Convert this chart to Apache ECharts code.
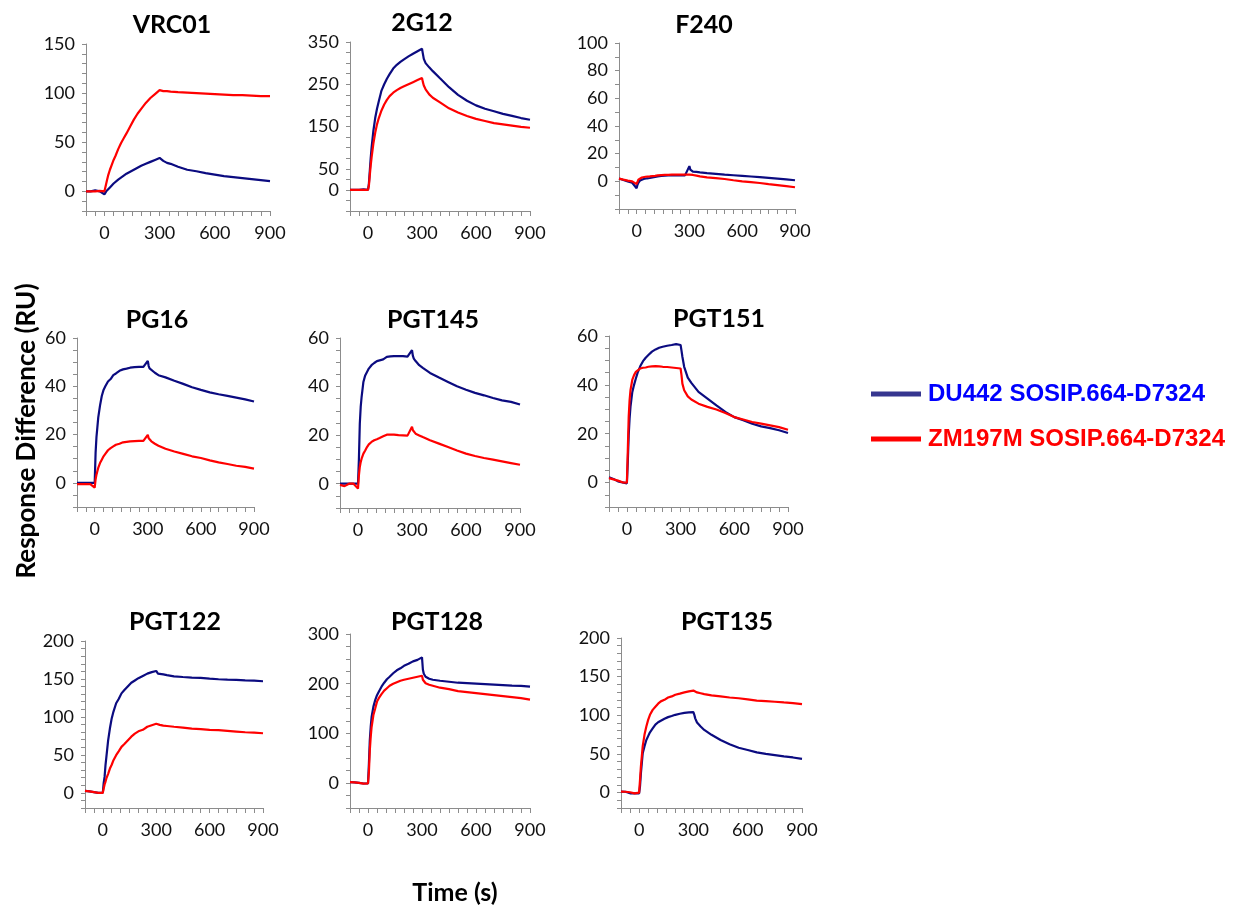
<!DOCTYPE html>
<html>
<head>
<meta charset="utf-8">
<script src="https://cdn.jsdelivr.net/npm/echarts@6/dist/echarts.min.js"></script>
<style>
  html, body { margin: 0; padding: 0; background: #fff; }
  #chart { width: 1236px; height: 907px; }
</style>
</head>
<body>
<div id="chart"></div>
<script>
// shared time points (s)
const times = [-100, -75, -50, -25, 0, 5, 10, 15, 20, 30, 40, 50, 60, 75, 90, 105, 120, 140, 160, 180, 200, 225, 250, 275, 300,
  305, 310, 320, 340, 360, 400, 450, 500, 550, 600, 650, 700, 750, 800, 850, 900];

const panelNames = ['VRC01', '2G12', 'F240', 'PG16', 'PGT145', 'PGT151', 'PGT122', 'PGT128', 'PGT135'];
const seriesNames = ['DU442 SOSIP.664-D7324', 'ZM197M SOSIP.664-D7324'];
const xTickLabels = [0, 300, 600, 900];

// y axis range / tick step / labelled values per panel
const yMins = [-20, -50, -20, -10, -10, -10, -20, -50, -20];
const yMaxs = [150, 350, 100, 60, 60, 60, 200, 300, 200];
const ySteps = [10, 25, 10, 5, 5, 5, 10, 25, 10];
const yLabels = [
  [0, 50, 100, 150],
  [0, 50, 150, 250, 350],
  [0, 20, 40, 60, 80, 100],
  [0, 20, 40, 60],
  [0, 20, 40, 60],
  [0, 20, 40, 60],
  [0, 50, 100, 150, 200],
  [0, 100, 200, 300],
  [0, 50, 100, 150, 200]
];

// DU442 (blue) responses
const vrc01Du = [0, 0, 1, 0, -3, -2, 0, 1, 2, 4, 6, 8, 10, 12, 14, 16, 18, 20, 22, 24, 26, 28, 30, 32, 34,
  33, 32, 31, 29, 28, 25, 22, 20.5, 18.5, 17, 15.5, 14.5, 13.5, 12.5, 11.5, 10.5];
const g12Du = [0, 0, 0, 1, 0, 15, 45, 75, 100, 140, 170, 192, 210, 235, 250, 263, 274, 287, 296, 303, 309, 316, 322, 328, 334,
  322, 310, 300, 290, 281, 264, 243, 225, 211, 200, 192, 186, 180, 175, 170, 166];
const f240Du = [2, 1, 0, -1, -5, -2.5, -1, 0, 0.7, 1.2, 1.7, 2, 2.2, 2.4, 2.8, 3.2, 3.6, 3.9, 4.1, 4.2, 4.3, 4.3, 4.3, 4.3, 11,
  8.5, 7.8, 7, 6.8, 6.5, 6, 5.4, 4.8, 4.4, 4, 3.5, 3, 2.5, 2, 1.4, 0.8];
const pg16Du = [0, 0, 0, 0, 0, 12.4, 19, 23, 27, 32, 36, 38.5, 40, 42, 43, 44.6, 45.3, 46.4, 47, 47.3, 47.7, 47.9, 48, 48, 50.5,
  48.4, 47.4, 46.7, 45.6, 44.6, 43.7, 42.3, 41, 39.6, 38.5, 37.5, 36.7, 36, 35.3, 34.6, 33.7];
const pgt145Du = [0, 0, 0, 0, 0, 10, 24.7, 31.6, 35.7, 41.9, 44.6, 46, 47.4, 48.8, 49.7, 50.5, 50.8, 51.2, 52.2, 52.4, 52.5, 52.5, 52.5, 52.3, 55,
  52.6, 51.5, 50.5, 48.8, 47.7, 45.6, 43.7, 41.9, 40.1, 38.7, 37.4, 36.4, 35.3, 34.3, 33.7, 32.6];
const pgt151Du = [2.2, 1.5, 0.5, 0.1, -0.3, 8.4, 19.3, 26.2, 31, 37, 40, 42.6, 45, 47.7, 49.7, 51.1, 52.2, 53.6, 54.5, 55.2, 55.6, 56, 56.3, 56.7, 56.3,
  54, 51.5, 47.4, 43, 40.8, 37.1, 34.4, 31.6, 28.9, 26.8, 25.5, 24.1, 23, 22.3, 21.4, 20.3];
const pgt122Du = [2.6, 2, 1, 0, 0, 13, 21, 36, 47, 69, 85, 98, 107, 118, 124, 131, 135, 140, 145, 148, 151, 154, 157, 159, 160.5,
  159, 157, 156, 156, 155, 153.5, 152.6, 151.8, 151.3, 150.4, 149.6, 149, 148.7, 148.2, 147.8, 147];
const pgt128Du = [2, 1.5, 0.7, -0.7, -0.7, 39, 86, 113, 133, 154, 167, 177, 184, 194, 202, 209, 214, 221, 227, 231, 236, 240, 245, 248, 253,
  228, 220, 214, 210, 208, 206, 204, 202, 201, 200, 199, 198, 197, 196, 195.5, 194];
const pgt135Du = [1.3, 1, -1, -1, -1, 8, 25, 38, 51, 60, 68, 73, 78, 83, 88, 91, 93, 95.5, 97.6, 99, 100.6, 102, 103, 103.7, 104,
  100.6, 96, 90.7, 85.5, 81, 74.7, 68, 62.6, 58, 55, 52, 50, 48.4, 46.7, 45.4, 43.6];

// ZM197M (red) responses
const vrc01Zm = [0, 0, 0, 0.5, 0, 4, 8, 12, 16, 22, 27, 32, 36, 43, 49, 54, 59, 66, 73, 79, 84, 90, 95, 99, 103,
  103, 102, 102, 102, 101.5, 101, 100.5, 100, 99.5, 99, 98.5, 98, 98, 97.5, 97, 97];
const g12Zm = [0, 0, 0, 0, 0, 10, 35, 58, 77, 110, 135, 155, 170, 188, 202, 213, 222, 230, 236, 241, 245, 250, 255, 260, 265,
  255, 247, 238, 226, 218, 207, 193, 183, 175, 168, 163, 158, 155, 152, 149, 147];
const f240Zm = [2, 1.2, 0.5, 0, -2, -0.5, 1.2, 1.8, 2.4, 2.8, 3.1, 3.3, 3.4, 3.6, 3.8, 4, 4.3, 4.5, 4.6, 4.7, 4.8, 4.8, 4.8, 4.8, 4.8,
  5.5, 5, 4.6, 4.1, 3.6, 2.9, 2.3, 1.7, 0.8, 0, -0.6, -1.2, -2, -2.7, -3.5, -4.3];
const pg16Zm = [-0.5, -0.5, -0.5, -0.5, -2, 1.4, 3.4, 4.8, 6.2, 8.2, 9.6, 11, 12, 13.5, 14.4, 15.1, 15.8, 16.2, 16.8, 17, 17.2, 17.3, 17.4, 17.4, 19.9,
  18.5, 17.9, 17.2, 16.2, 15.4, 14.1, 13, 12, 11, 10.3, 9.3, 8.5, 7.8, 7.1, 6.6, 5.9];
const pgt145Zm = [-0.5, -1, 0, 0, -2, 3.4, 6.9, 8.9, 10.3, 12.4, 13.7, 15.1, 16.2, 17.2, 17.9, 18.3, 18.8, 19.5, 20.2, 20.2, 20.2, 20, 19.9, 19.8, 23.5,
  22, 21.3, 20.6, 19.9, 19.2, 17.9, 16.5, 15.1, 13.7, 12.4, 11.4, 10.6, 9.9, 9.2, 8.5, 7.8];
const pgt151Zm = [1.8, 1.3, 0.8, 0.1, 0, 13, 26.8, 33.7, 37.8, 42, 44, 45.3, 46, 46.7, 47, 47.1, 47.4, 47.6, 47.7, 47.6, 47.4, 47.3, 47.1, 46.9, 46.7,
  44, 40.5, 37.8, 35.3, 34, 32.3, 31, 29.9, 28.5, 26.8, 25.8, 24.8, 24.1, 23.4, 22.7, 21.6];
const pgt122Zm = [2.6, 2, 1, 0, 0, 5.7, 11, 14.5, 19, 25, 32, 37, 43, 49.6, 55, 60.5, 64, 69, 74, 78, 81, 83, 87, 89, 91,
  90, 90, 89.5, 88.5, 88, 87, 86, 84.6, 84, 83, 82.5, 81.6, 80.7, 79.8, 79.4, 78.5];
const pgt128Zm = [2, 1.5, 0.5, -1, -0.7, 22, 66, 93, 113, 137, 150, 164, 171, 179, 186, 191, 196, 200, 203, 206, 208, 210, 212, 214, 216,
  208, 204, 201, 198, 196, 192, 189, 185, 183, 181, 179, 177, 175, 173, 171, 168];
const pgt135Zm = [1.3, 1, 0.4, -1, 0, 16, 34, 47, 60, 75, 85.5, 94, 100.6, 107, 111, 115, 118, 120, 123, 124.4, 126.6, 128, 129.6, 131, 132,
  131, 130.5, 129.6, 128.5, 127.4, 125.7, 124.4, 123, 122, 120.5, 119, 118.4, 117.5, 116.6, 115.8, 114.5];

const duData = [vrc01Du, g12Du, f240Du, pg16Du, pgt145Du, pgt151Du, pgt122Du, pgt128Du, pgt135Du];
const zmData = [vrc01Zm, g12Zm, f240Zm, pg16Zm, pgt145Zm, pgt151Zm, pgt122Zm, pgt128Zm, pgt135Zm];

// layout (pixels) of each panel's plot box and title
const gridBoxes = [
  [86, 44, 184, 167], [350, 42, 180, 169], [619, 43, 176, 166],
  [77, 338, 177, 169], [340, 338, 180, 170], [609, 336, 179, 171],
  [85, 641, 178, 167], [350, 634, 180, 174], [621, 638, 181, 170]
];
const titlePos = [
  [172, 25], [422, 23], [704, 25],
  [157, 320], [433, 320], [719, 319],
  [175, 622], [437, 622], [727, 622]
];

const blue = '#0b0b80';
const red = '#ff0000';
const axisGray = '#8c8c8c';
const numFont = 'Lato';

const chart = echarts.init(document.getElementById('chart'));

const grids = [], xAxes = [], yAxes = [], series = [], graphics = [];
panelNames.forEach(function (name, i) {
  const b = gridBoxes[i];
  grids.push({ left: b[0], top: b[1], width: b[2], height: b[3], containLabel: false, outerBoundsMode: 'none' });
  xAxes.push({
    type: 'value', gridIndex: i, min: -100, max: 900, interval: 50,
    splitLine: { show: false },
    axisLine: { show: true, onZero: false, lineStyle: { color: axisGray, width: 1 } },
    axisTick: { show: true, length: 5, lineStyle: { color: axisGray } },
    axisLabel: {
      margin: 13, color: '#111', fontSize: 18, fontFamily: numFont,
      showMinLabel: true, showMaxLabel: true,
      formatter: function (v) { return xTickLabels.indexOf(v) >= 0 ? String(v) : ''; }
    }
  });
  yAxes.push({
    type: 'value', gridIndex: i, min: yMins[i], max: yMaxs[i], interval: ySteps[i],
    splitLine: { show: false },
    axisLine: { show: true, onZero: false, lineStyle: { color: axisGray, width: 1 } },
    axisTick: { show: true, length: 4, lineStyle: { color: axisGray } },
    axisLabel: {
      margin: 11, color: '#111', fontSize: 18, fontFamily: numFont,
      showMinLabel: true, showMaxLabel: true,
      formatter: function (v) { return yLabels[i].indexOf(v) >= 0 ? String(v) : ''; }
    }
  });
  series.push({
    name: seriesNames[0], type: 'line', xAxisIndex: i, yAxisIndex: i,
    data: times.map(function (t, k) { return [t, duData[i][k]]; }),
    showSymbol: false, lineStyle: { color: blue, width: 2.2 }, itemStyle: { color: blue }
  });
  series.push({
    name: seriesNames[1], type: 'line', xAxisIndex: i, yAxisIndex: i,
    data: times.map(function (t, k) { return [t, zmData[i][k]]; }),
    showSymbol: false, lineStyle: { color: red, width: 2.2 }, itemStyle: { color: red }
  });
  graphics.push({
    type: 'text', x: titlePos[i][0], y: titlePos[i][1],
    style: { text: name, align: 'center', verticalAlign: 'middle', fill: '#000',
      font: 'bold 25px Lato' }
  });
});

// axis titles
graphics.push({
  type: 'text', x: 27, y: 431, rotation: Math.PI / 2,
  style: { text: 'Response Difference (RU)', align: 'center', verticalAlign: 'middle', fill: '#000',
    font: 'bold 26px Lato' }
});
graphics.push({
  type: 'text', x: 455, y: 893,
  style: { text: 'Time (s)', align: 'center', verticalAlign: 'middle', fill: '#000',
    font: 'bold 25px Lato' }
});

const option = {
  animation: false,
  backgroundColor: '#fff',
  grid: grids,
  xAxis: xAxes,
  yAxis: yAxes,
  legend: {
    orient: 'vertical', left: 866, top: 377, itemGap: 21,
    icon: 'rect', itemWidth: 50, itemHeight: 5,
    textStyle: { fontSize: 24, fontWeight: 'bold', fontFamily: 'Liberation Sans', padding: [0, 0, 0, 2] },
    data: [
      { name: seriesNames[0], itemStyle: { color: '#36368f' }, textStyle: { color: '#0000ff' } },
      { name: seriesNames[1], itemStyle: { color: '#ff0000' }, textStyle: { color: '#ff0000' } }
    ]
  },
  graphic: graphics,
  series: series
};

chart.setOption(option);
</script>
</body>
</html>
